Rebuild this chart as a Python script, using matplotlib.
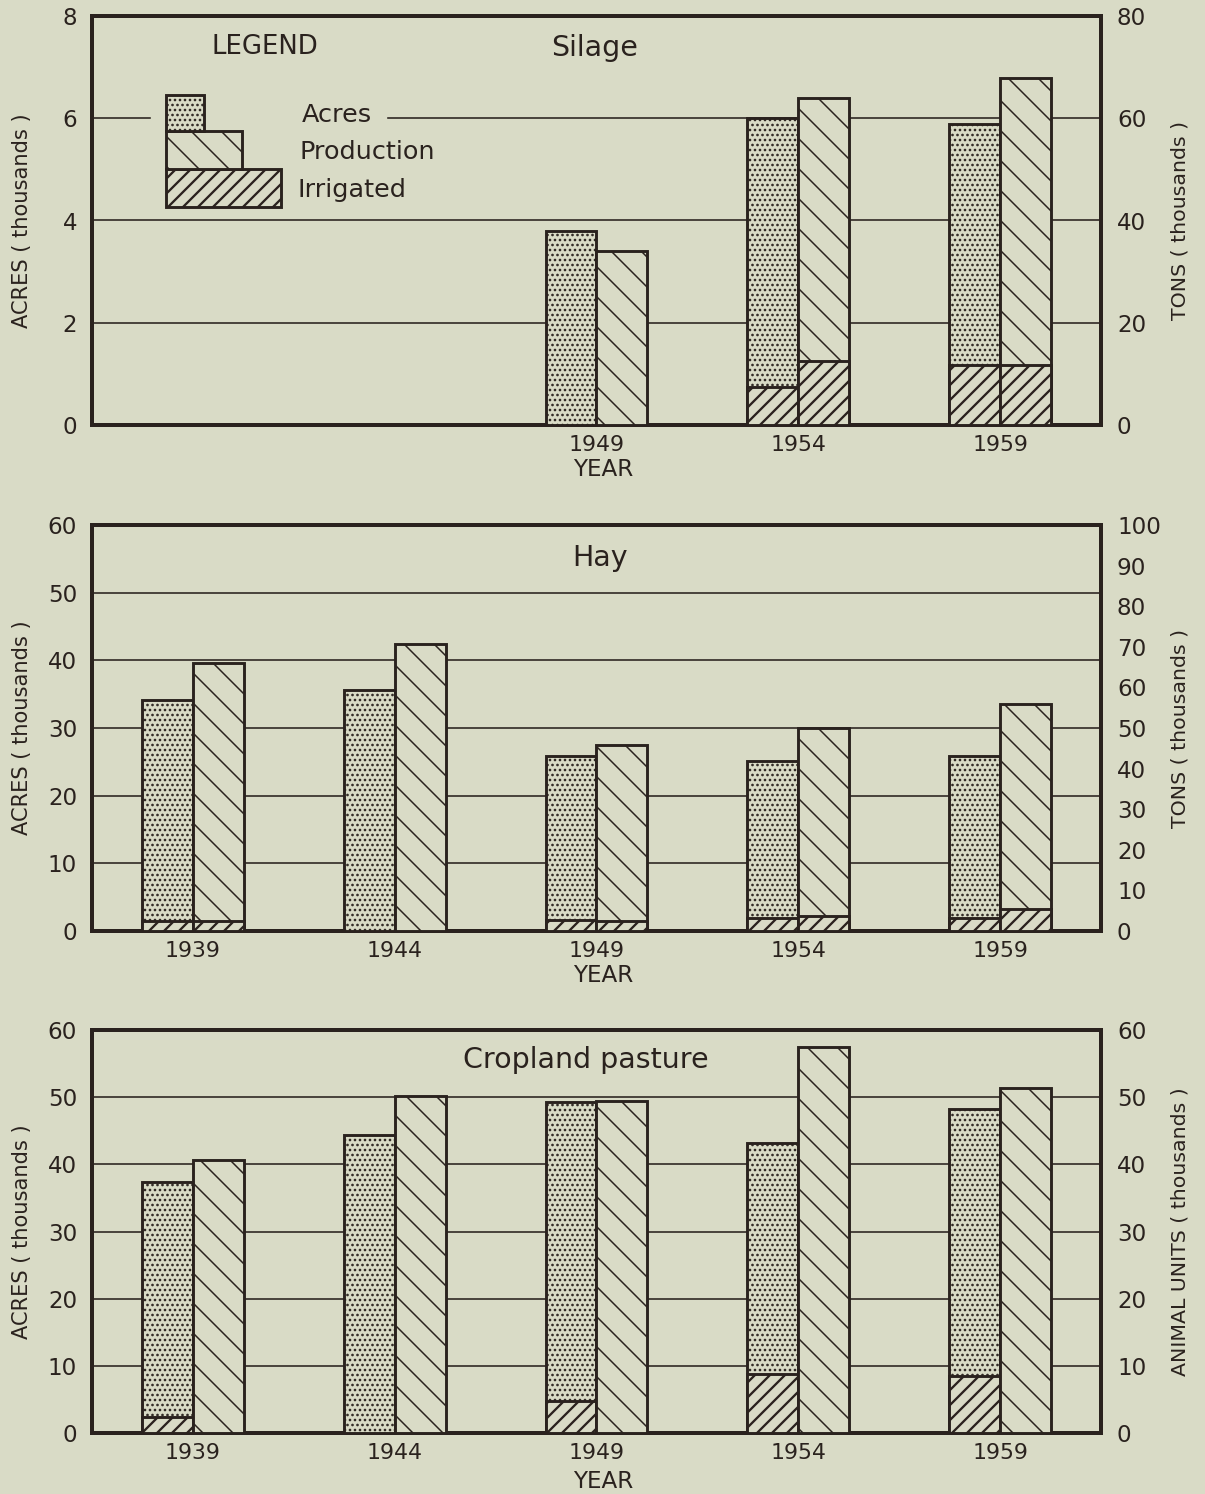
import matplotlib
matplotlib.use('Agg')
import matplotlib.pyplot as plt
import numpy as np
from matplotlib.patches import Rectangle

# ---------------- data ----------------
years = ['1939', '1944', '1949', '1954', '1959']

silage_acres = [np.nan, np.nan, 3.8, 6.0, 5.88]          # thousand acres
silage_tons = [np.nan, np.nan, 34.0, 63.9, 67.8]         # thousand tons
silage_irr_acres = [0, 0, 0, 0.75, 1.18]
silage_irr_tons = [0, 0, 0, 12.5, 11.8]

hay_acres = [34.1, 35.6, 25.9, 25.1, 25.9]
hay_tons = [65.9, 70.7, 45.8, 49.9, 55.8]
hay_irr_acres = [1.5, 0, 1.6, 1.9, 1.9]
hay_irr_tons = [2.5, 0, 2.4, 3.8, 5.3]

pasture_acres = [37.4, 44.3, 49.3, 43.2, 48.2]
pasture_units = [40.7, 50.1, 49.4, 57.5, 51.3]           # thousand animal units
pasture_irr_acres = [2.4, 0, 4.8, 8.8, 8.5]
pasture_irr_units = [0, 0, 0, 0, 0]

# ---------------- style ----------------
DPI = 90
P = 72.0 / DPI            # px -> pt
BG = '#d9dbc6'
INK = '#2a221e'
W = 0.252
EDGE = 2.9 * P
DOT_LW = 1.6 * P
PROD_LW = 1.5 * P
IRR_LW = 2.3 * P

plt.rcParams['font.family'] = ['DejaVu Sans']
plt.rcParams['hatch.linewidth'] = 1.5 * P
plt.rcParams['hatch.color'] = INK

fig = plt.figure(figsize=(1205 / DPI, 1494 / DPI), dpi=DPI)
fig.patch.set_facecolor(BG)

FW, FH = 1205.0, 1494.0


def fx(px):
    return px / FW


def fy(py):
    return 1 - py / FH


def hatch_lw(patches, lw):
    for p in patches:
        if hasattr(p, 'set_hatch_linewidth'):
            p.set_hatch_linewidth(lw)


def panel(top, bottom, acres, prod, irr_a, irr_p, lmax, lstep, rmax, rstep,
          rlabel, title, title_x, title_y, xlabels, year_y):
    rect = [fx(92), fy(bottom), fx(1101) - fx(92), fy(top) - fy(bottom)]
    ax = fig.add_axes(rect)
    ax.set_facecolor(BG)
    ax2 = ax.twinx()
    x = np.arange(len(years))
    ax.set_xlim(-0.5, len(years) - 0.5)
    ax.set_ylim(0, lmax)
    ax2.set_ylim(0, rmax)

    acres = np.array(acres, float)
    prod = np.array(prod, float)
    irr_a = np.array(irr_a, float)
    irr_p = np.array(irr_p, float)

    kw = dict(facecolor=BG, edgecolor=INK, linewidth=EDGE)
    b = ax.bar(x - W / 2, acres, W, hatch='...', zorder=3, **kw)
    hatch_lw(b, DOT_LW)
    m = irr_a > 0
    b = ax.bar(x[m] - W / 2, irr_a[m], W, hatch='//', zorder=4, **kw)
    hatch_lw(b, IRR_LW)
    b = ax2.bar(x + W / 2, prod, W, hatch='\\', zorder=3, **kw)
    hatch_lw(b, PROD_LW)
    m = irr_p > 0
    b = ax2.bar(x[m] + W / 2, irr_p[m], W, hatch='//', zorder=4, **kw)
    hatch_lw(b, IRR_LW)

    ax.set_xticks(x, xlabels)
    ax.set_yticks(np.arange(0, lmax + 0.001, lstep))
    ax2.set_yticks(np.arange(0, rmax + 0.001, rstep))
    ax.tick_params(axis='both', length=0, colors=INK)
    ax.tick_params(axis='y', pad=15 * P, labelsize=23 * P)
    ax.tick_params(axis='x', pad=10 * P, labelsize=22 * P)
    ax2.tick_params(axis='y', length=0, labelsize=23 * P, colors=INK, pad=16 * P)

    for s in ax.spines.values():
        s.set_linewidth(4 * P)
        s.set_color(INK)
    for s in ax2.spines.values():
        s.set_visible(False)

    ax.text(title_x, title_y, title, transform=ax.transAxes, ha='center',
            va='center', fontsize=28.5 * P, color=INK)

    ymid = (top + bottom) / 2
    fig.text(fx(22), fy(ymid), 'ACRES ( thousands )', rotation=90,
             ha='center', va='center', fontsize=21 * P, color=INK)
    fig.text(fx(1180), fy(ymid), rlabel, rotation=90,
             ha='center', va='center', fontsize=20.5 * P, color=INK)
    fig.text(fx(603), fy(year_y), 'YEAR', ha='center', va='center',
             fontsize=23 * P, color=INK)
    return ax, ax2


# ---- Silage ----
ax, ax2 = panel(16, 425, silage_acres, silage_tons, silage_irr_acres, silage_irr_tons,
                8, 2, 80, 20, 'TONS ( thousands )', 'Silage', 0.4985, 0.922,
                ['', '', '1949', '1954', '1959'], 469)
for g in [2, 4]:
    ax.axhline(g, color=INK, lw=1.6 * P, zorder=1)
ax.axhline(6, xmin=0, xmax=0.0575, color=INK, lw=1.6 * P, zorder=1)
ax.axhline(6, xmin=0.293, xmax=1, color=INK, lw=1.6 * P, zorder=1)

# legend
lkw = dict(transform=ax.transAxes, facecolor=BG, edgecolor=INK,
           linewidth=EDGE, zorder=5)
x0 = 0.073
r1 = ax.add_patch(Rectangle((x0, 0.532), 0.1873 - x0, 0.626 - 0.532, hatch='//', **lkw))
r2 = ax.add_patch(Rectangle((x0, 0.626), 0.1487 - x0, 0.719 - 0.626, hatch='\\', **lkw))
r3 = ax.add_patch(Rectangle((x0, 0.719), 0.1113 - x0, 0.807 - 0.719, hatch='...', **lkw))
hatch_lw([r1], IRR_LW)
hatch_lw([r2], PROD_LW)
hatch_lw([r3], DOT_LW)
ax.text(0.171, 0.924, 'LEGEND', transform=ax.transAxes, ha='center', va='center',
        fontsize=26 * P, color=INK)
for txt, tx, ty in [('Acres', 0.208, 0.758), ('Production', 0.206, 0.667),
                    ('Irrigated', 0.204, 0.575)]:
    ax.text(tx, ty, txt, transform=ax.transAxes, ha='left', va='center',
            fontsize=25.5 * P, color=INK)

# ---- Hay ----
ax, ax2 = panel(525, 931, hay_acres, hay_tons, hay_irr_acres, hay_irr_tons,
                60, 10, 100, 10, 'TONS ( thousands )', 'Hay', 0.5035, 0.919,
                years, 975)
for g in [10, 20, 30, 40, 50]:
    ax.axhline(g, color=INK, lw=1.6 * P, zorder=1)

# ---- Cropland pasture ----
ax, ax2 = panel(1030, 1433, pasture_acres, pasture_units, pasture_irr_acres,
                pasture_irr_units, 60, 10, 60, 10, 'ANIMAL UNITS ( thousands )',
                'Cropland pasture', 0.4896, 0.9256, years, 1481)
for g in [10, 20, 30, 40, 50]:
    ax.axhline(g, color=INK, lw=1.6 * P, zorder=1)

fig.savefig('out.png', dpi=DPI, facecolor=BG)
